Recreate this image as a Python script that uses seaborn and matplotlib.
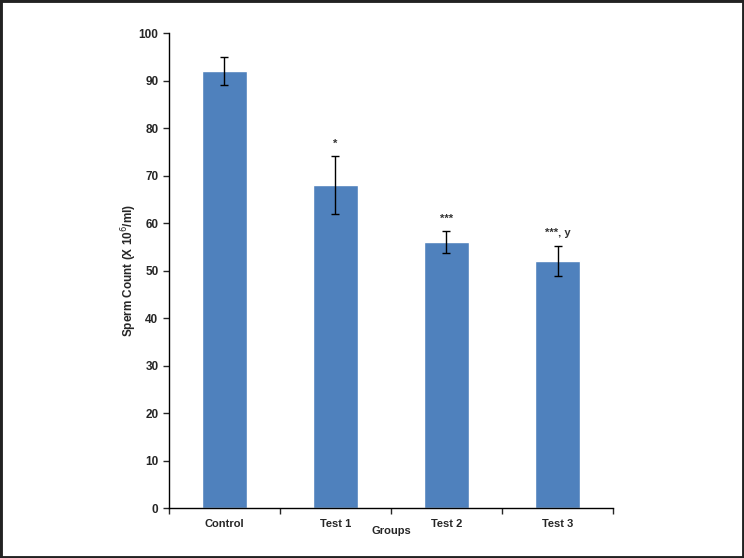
import pandas as pd
import numpy as np
import matplotlib
matplotlib.use("Agg")
import matplotlib.pyplot as plt
import seaborn as sns
from matplotlib.patches import Rectangle

#Chart data
groups = ["Control", "Test 1", "Test 2", "Test 3"]
sperm_count = [92, 68, 56, 52]
sem = [3.0, 6.1, 2.3, 3.2]
marks = ["", "*", "***", "***, y"]

df = pd.DataFrame({"Groups": groups, "Count": sperm_count})

sns.set_style("ticks")
plt.rcParams["font.family"] = ["Liberation Sans", "DejaVu Sans"]

fig = plt.figure(figsize=(7.44, 5.58), dpi=100)
ax = fig.add_axes([0.227, 0.0896, 0.597, 0.851])

sns.barplot(data=df, x="Groups", y="Count", color="#4f81bd", width=0.4,
            saturation=1, errorbar=None, ax=ax)
ax.errorbar(range(len(groups)), sperm_count, yerr=sem, fmt="none",
            ecolor="black", elinewidth=1, capsize=3, capthick=1)

#significance marks above the error bars
for i, (v, e, m) in enumerate(zip(sperm_count, sem, marks)):
    if m:
        ax.text(i, v + e + 1.6, m, ha="center", va="bottom", fontsize=8,
                fontweight="bold", color="#333333")

ax.set_xlim(-0.5, len(groups) - 0.5)
ax.set_ylim(0, 100)
ax.set_yticks(np.arange(0, 101, 10))
ax.set_xticks(np.arange(-0.5, len(groups), 1.0))
ax.set_xticklabels([])
ax.set_xticks(range(len(groups)), minor=True)
ax.set_xticklabels(groups, minor=True, fontsize=8, fontweight="bold")
ax.tick_params(axis="x", which="minor", length=0, pad=8)
ax.tick_params(axis="x", which="major", length=4, width=1)
ax.tick_params(axis="y", length=4, width=1, labelsize=8.5)
for lab in ax.get_yticklabels():
    lab.set_fontweight("bold")

ax.set_xlabel("Groups", fontsize=8, fontweight="bold", labelpad=-2)
ax.set_ylabel("Sperm Count (X 10$^{6}$/ml)", fontsize=8.5, fontweight="bold", labelpad=0)
sns.despine(ax=ax)
for s in ["left", "bottom"]:
    ax.spines[s].set_linewidth(1)
    ax.spines[s].set_color("black")

#dark frame round the picture
fig.patches.append(Rectangle((0, 0), 1, 1, transform=fig.transFigure,
                             fill=False, edgecolor="#222222", linewidth=3.5))

fig.savefig("out.png", dpi=100)
